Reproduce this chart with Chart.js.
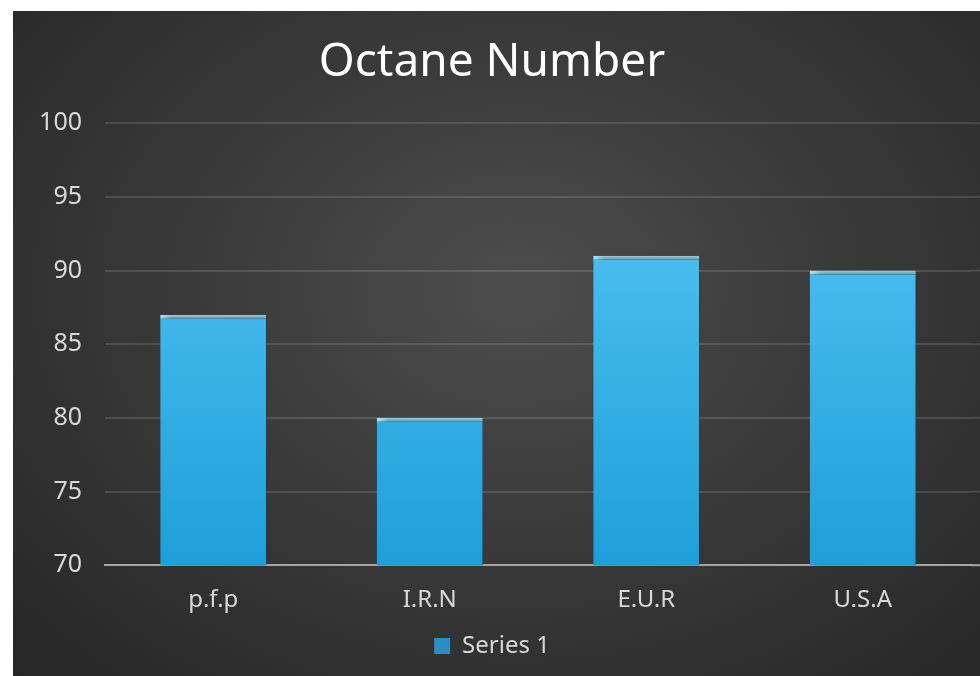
<!DOCTYPE html>
<html>
<head>
<meta charset="utf-8">
<script src="https://cdn.jsdelivr.net/npm/chart.js@4/dist/chart.umd.min.js"></script>
<style>
  html, body { margin: 0; padding: 0; background: #fff; }
  #wrap {
    position: absolute; left: 13px; top: 11px; width: 967px; height: 665px;
    background: radial-gradient(ellipse at 52% 42%, #4d4d4d 0%, #3a3a3a 45%, #262626 100%);
  }
</style>
</head>
<body>
<div id="wrap"><canvas id="octaneChart" width="967" height="665"></canvas></div>
<script>
// chart values
const categories = ["p.f.p", "I.R.N", "E.U.R", "U.S.A"];
const series1 = [87, 80, 91, 90];
const seriesName = "Series 1";

// gridlines in the original run on to the right edge of the picture
const gridTail = {
  id: "gridTail",
  beforeDatasetsDraw(chart) {
    const ctx = chart.ctx, y = chart.scales.y, a = chart.chartArea;
    ctx.save();
    ctx.strokeStyle = "rgba(255,255,255,0.13)";
    ctx.lineWidth = 2;
    y.ticks.forEach(t => {
      if (t.value === y.min) return;
      const py = y.getPixelForValue(t.value);
      ctx.beginPath();
      ctx.moveTo(a.right, py);
      ctx.lineTo(chart.width, py);
      ctx.stroke();
    });
    ctx.strokeStyle = "#a6a6a6";
    const by = y.getPixelForValue(y.min);
    ctx.beginPath();
    ctx.moveTo(a.right, by);
    ctx.lineTo(chart.width, by);
    ctx.stroke();
    ctx.restore();
  }
};

// bars get a drop shadow to the right
const barShadow = {
  id: "barShadow",
  beforeDatasetDraw(chart) {
    const ctx = chart.ctx;
    ctx.save();
    ctx.shadowColor = "rgba(0,0,0,0.8)";
    ctx.shadowBlur = 8;
    ctx.shadowOffsetX = 5;
    ctx.shadowOffsetY = 0;
  },
  afterDatasetDraw(chart) {
    chart.ctx.restore();
  }
};

function barGradient(context) {
  const area = context.chart.chartArea;
  if (!area) return "#3db5ec";
  const g = context.chart.ctx.createLinearGradient(0, area.top, 0, area.bottom);
  g.addColorStop(0, "#5ac8f5");
  g.addColorStop(1, "#1e9fd9");
  return g;
}

const ctx = document.getElementById("octaneChart").getContext("2d");
const octaneChart = new Chart(ctx, {
  type: "bar",
  data: {
    labels: categories,
    datasets: [{
      label: seriesName,
      data: series1,
      backgroundColor: barGradient,
      borderColor: "#a8ecff",
      borderWidth: { top: 4, left: 0, right: 0, bottom: 0 },
      borderSkipped: false,
      categoryPercentage: 1,
      barPercentage: 0.49
    }]
  },
  plugins: [gridTail, barShadow],
  options: {
    responsive: false,
    animation: false,
    layout: { padding: { left: 0, right: 9, top: 0, bottom: 8 } },
    plugins: {
      title: {
        display: true,
        text: "Octane Number",
        color: "#ffffff",
        font: { family: "Noto Sans", size: 46, weight: "normal" },
        padding: { top: 24, bottom: 33 }
      },
      legend: {
        position: "bottom",
        labels: {
          color: "#d9d9d9",
          font: { family: "Noto Sans", size: 24 },
          boxWidth: 16,
          boxHeight: 16,
          padding: 6,
          generateLabels(chart) {
            return [{
              text: seriesName,
              fillStyle: "#2a8fc0",
              strokeStyle: "#2a8fc0",
              lineWidth: 0,
              fontColor: "#d9d9d9",
              datasetIndex: 0
            }];
          }
        }
      },
      tooltip: { enabled: false }
    },
    scales: {
      x: {
        grid: { display: false },
        border: { display: true, color: "#a6a6a6", width: 2 },
        ticks: {
          color: "#d9d9d9",
          font: { family: "Noto Sans", size: 24 },
          padding: 13
        }
      },
      y: {
        min: 70,
        max: 100,
        afterFit(scale) { scale.width = 92; },
        grid: { color: "rgba(255,255,255,0.13)", lineWidth: 2, drawTicks: false },
        border: { display: false },
        ticks: {
          stepSize: 5,
          color: "#d9d9d9",
          font: { family: "Noto Sans", size: 25 },
          padding: 23
        }
      }
    }
  }
});
</script>
</body>
</html>
